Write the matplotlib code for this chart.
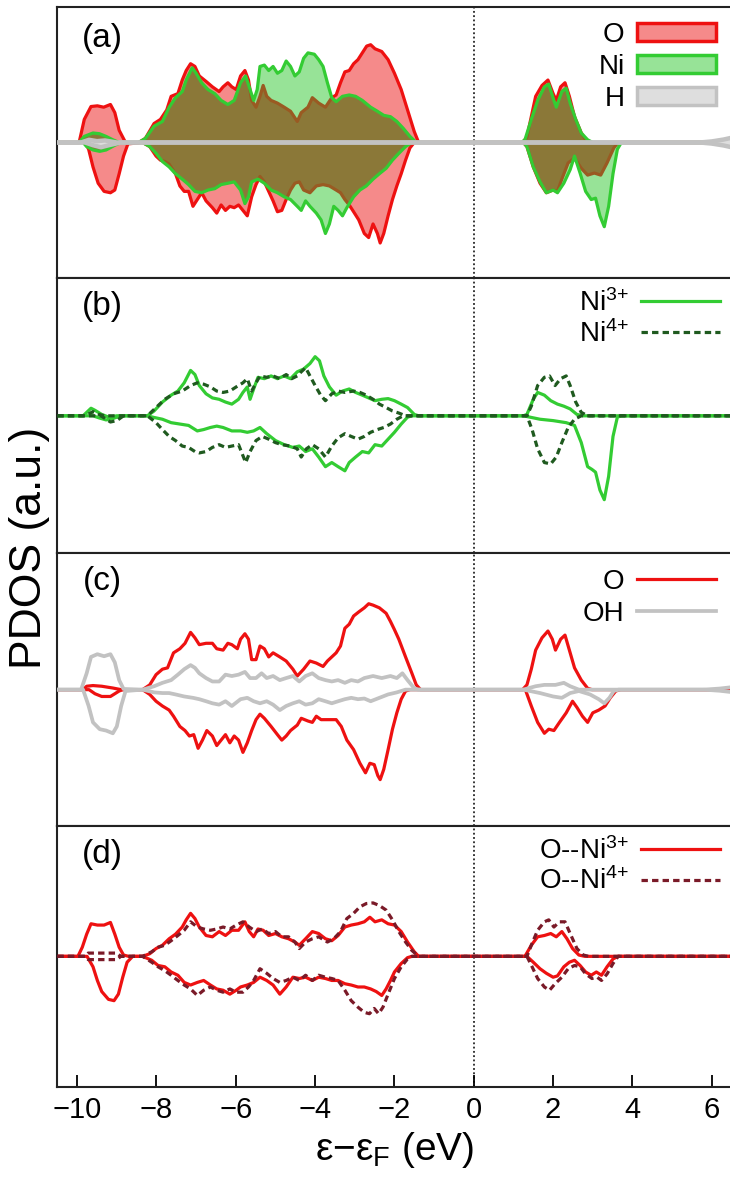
import numpy as np
import matplotlib
matplotlib.use("Agg")
import matplotlib.pyplot as plt
from matplotlib.patches import Patch
from matplotlib.lines import Line2D

plt.rcParams['font.family'] = ['Liberation Sans', 'DejaVu Sans']
plt.rcParams['mathtext.fontset'] = 'custom'
plt.rcParams['mathtext.rm'] = 'Liberation Sans'
plt.rcParams['mathtext.it'] = 'Liberation Sans:italic'

# ---------------- data (energy in eV, PDOS in arbitrary units) ----------------
XTICKS = [-10, -8, -6, -4, -2, 0, 2, 4, 6]
XLIM = (-10.5, 6.5)
PANEL_LABELS = ['(a)', '(b)', '(c)', '(d)']

A_O_UP = [(-10.5,0),(-9.95,0),(-9.82,0.17),(-9.65,0.265),(-9.49,0.27),(-9.33,0.26),(-9.16,0.28),(-9.05,0.22),(-8.94,0.09),(-8.78,0),(-8.45,0),(-8.28,0.03),(-8.06,0.14),(-7.9,0.17),(-7.74,0.24),(-7.63,0.34),(-7.46,0.36),(-7.35,0.46),(-7.25,0.53),(-7.14,0.58),(-7.03,0.56),(-6.92,0.49),(-6.75,0.45),(-6.59,0.41),(-6.42,0.375),(-6.32,0.41),(-6.2,0.44),(-6.1,0.41),(-5.99,0.39),(-5.88,0.49),(-5.77,0.53),(-5.68,0.46),(-5.6,0.31),(-5.49,0.26),(-5.39,0.34),(-5.31,0.42),(-5.22,0.34),(-5.11,0.31),(-4.95,0.29),(-4.78,0.26),(-4.62,0.23),(-4.45,0.155),(-4.35,0.22),(-4.18,0.26),(-4.07,0.33),(-3.91,0.29),(-3.74,0.26),(-3.58,0.33),(-3.47,0.35),(-3.36,0.44),(-3.25,0.52),(-3.14,0.53),(-3.03,0.58),(-2.92,0.61),(-2.81,0.66),(-2.7,0.71),(-2.6,0.72),(-2.49,0.69),(-2.32,0.67),(-2.16,0.61),(-2.0,0.51),(-1.83,0.39),(-1.67,0.24),(-1.5,0.08),(-1.39,0),(1.23,0),(1.34,0.04),(1.45,0.19),(1.56,0.34),(1.72,0.42),(1.87,0.46),(2.0,0.36),(2.08,0.31),(2.19,0.41),(2.3,0.44),(2.41,0.34),(2.54,0.19),(2.71,0.07),(2.87,0),(6.5,0)]
A_NI_UP = [(-10.5,0),(-9.95,0),(-9.82,0.045),(-9.6,0.07),(-9.44,0.065),(-9.27,0.045),(-9.1,0.02),(-8.94,0),(-8.45,0),(-8.28,0.03),(-8.06,0.12),(-7.85,0.155),(-7.68,0.26),(-7.52,0.33),(-7.35,0.375),(-7.25,0.46),(-7.1,0.55),(-7.0,0.51),(-6.86,0.44),(-6.7,0.39),(-6.53,0.36),(-6.37,0.31),(-6.2,0.28),(-6.04,0.31),(-5.88,0.44),(-5.75,0.49),(-5.64,0.39),(-5.55,0.31),(-5.46,0.39),(-5.39,0.56),(-5.28,0.57),(-5.17,0.53),(-5.06,0.56),(-4.95,0.51),(-4.84,0.53),(-4.73,0.6),(-4.62,0.56),(-4.51,0.49),(-4.4,0.52),(-4.29,0.62),(-4.18,0.66),(-4.02,0.65),(-3.91,0.61),(-3.8,0.56),(-3.69,0.44),(-3.58,0.33),(-3.47,0.3),(-3.31,0.34),(-3.14,0.35),(-2.98,0.34),(-2.81,0.31),(-2.6,0.26),(-2.43,0.23),(-2.27,0.2),(-2.1,0.19),(-1.94,0.155),(-1.78,0.105),(-1.61,0.045),(-1.45,0),(1.2,0),(1.29,0.02),(1.45,0.17),(1.61,0.31),(1.78,0.41),(1.89,0.43),(2.02,0.31),(2.08,0.26),(2.22,0.375),(2.33,0.4),(2.43,0.29),(2.57,0.17),(2.71,0.07),(2.87,0.02),(3.0,0),(6.5,0)]
A_O_DN = [(-10.5,0),(-9.8,0),(-9.71,-0.05),(-9.6,-0.18),(-9.47,-0.3),(-9.32,-0.36),(-9.16,-0.37),(-9.05,-0.35),(-8.94,-0.23),(-8.83,-0.1),(-8.72,-0.01),(-8.35,0),(-8.17,-0.03),(-8.01,-0.1),(-7.9,-0.13),(-7.79,-0.14),(-7.68,-0.16),(-7.52,-0.23),(-7.41,-0.32),(-7.3,-0.36),(-7.19,-0.36),(-7.08,-0.47),(-6.97,-0.42),(-6.86,-0.37),(-6.75,-0.43),(-6.59,-0.48),(-6.48,-0.52),(-6.37,-0.46),(-6.26,-0.5),(-6.15,-0.47),(-6.04,-0.48),(-5.93,-0.46),(-5.82,-0.5),(-5.71,-0.54),(-5.6,-0.4),(-5.49,-0.31),(-5.39,-0.25),(-5.28,-0.29),(-5.17,-0.36),(-5.06,-0.43),(-4.95,-0.51),(-4.84,-0.5),(-4.73,-0.42),(-4.62,-0.35),(-4.51,-0.3),(-4.4,-0.29),(-4.29,-0.35),(-4.13,-0.37),(-3.97,-0.32),(-3.8,-0.31),(-3.64,-0.32),(-3.47,-0.35),(-3.36,-0.37),(-3.25,-0.42),(-3.14,-0.46),(-3.03,-0.51),(-2.9,-0.57),(-2.76,-0.67),(-2.65,-0.7),(-2.54,-0.6),(-2.43,-0.67),(-2.36,-0.74),(-2.27,-0.67),(-2.16,-0.54),(-2.05,-0.42),(-1.94,-0.32),(-1.83,-0.23),(-1.72,-0.13),(-1.61,-0.04),(-1.5,0),(1.25,0),(1.34,-0.03),(1.5,-0.18),(1.67,-0.3),(1.83,-0.37),(2.0,-0.35),(2.11,-0.36),(2.22,-0.27),(2.38,-0.15),(2.54,-0.115),(2.71,-0.19),(2.87,-0.24),(3.04,-0.225),(3.2,-0.24),(3.36,-0.15),(3.53,-0.04),(3.64,0),(6.5,0)]
A_NI_DN = [(-10.5,0),(-9.85,0),(-9.76,-0.03),(-9.6,-0.055),(-9.43,-0.065),(-9.27,-0.055),(-9.05,-0.02),(-8.89,0),(-8.35,0),(-8.17,-0.03),(-8.01,-0.08),(-7.85,-0.14),(-7.68,-0.18),(-7.52,-0.23),(-7.35,-0.27),(-7.19,-0.31),(-7.03,-0.36),(-6.86,-0.37),(-6.7,-0.35),(-6.53,-0.34),(-6.37,-0.31),(-6.2,-0.3),(-6.04,-0.29),(-5.88,-0.35),(-5.77,-0.45),(-5.68,-0.4),(-5.6,-0.29),(-5.44,-0.27),(-5.28,-0.3),(-5.11,-0.35),(-4.95,-0.37),(-4.78,-0.4),(-4.62,-0.42),(-4.45,-0.47),(-4.35,-0.5),(-4.24,-0.43),(-4.13,-0.47),(-3.97,-0.52),(-3.85,-0.57),(-3.74,-0.67),(-3.64,-0.6),(-3.53,-0.47),(-3.42,-0.5),(-3.31,-0.54),(-3.2,-0.48),(-3.03,-0.4),(-2.87,-0.35),(-2.71,-0.32),(-2.54,-0.27),(-2.38,-0.23),(-2.21,-0.19),(-2.05,-0.13),(-1.89,-0.08),(-1.72,-0.03),(-1.56,0),(1.25,0),(1.34,-0.03),(1.5,-0.18),(1.67,-0.29),(1.83,-0.37),(2.0,-0.35),(2.11,-0.37),(2.27,-0.3),(2.43,-0.2),(2.54,-0.1),(2.68,-0.225),(2.82,-0.36),(2.96,-0.42),(3.07,-0.41),(3.18,-0.54),(3.29,-0.62),(3.4,-0.47),(3.51,-0.23),(3.62,-0.05),(3.72,0),(6.5,0)]
A_H_UP = [(-10.5,0),(-9.9,0),(-9.7,0.02),(-9.5,0.01),(-9.3,0.015),(-9.0,0),(5.7,0),(6.0,0.008),(6.3,0.022),(6.5,0.035)]
A_H_DN = [(-10.5,0),(-9.8,0),(-9.6,-0.02),(-9.4,-0.035),(-9.2,-0.02),(-8.9,0),(5.7,0),(6.0,-0.008),(6.3,-0.022),(6.5,-0.035)]

B_NI3_UP = [(-10.5,0),(-9.85,0),(-9.65,0.055),(-9.55,0.04),(-9.38,0.01),(-9.2,-0.01),(-9.0,0),(-8.23,0),(-8.06,0.035),(-7.85,0.1),(-7.63,0.15),(-7.46,0.18),(-7.3,0.24),(-7.14,0.33),(-7.03,0.3),(-6.92,0.22),(-6.75,0.16),(-6.59,0.13),(-6.42,0.12),(-6.26,0.1),(-6.1,0.085),(-5.93,0.12),(-5.82,0.17),(-5.71,0.21),(-5.64,0.12),(-5.55,0.195),(-5.44,0.28),(-5.28,0.27),(-5.11,0.29),(-4.95,0.27),(-4.78,0.29),(-4.62,0.27),(-4.45,0.32),(-4.29,0.34),(-4.13,0.38),(-4.0,0.43),(-3.89,0.4),(-3.78,0.29),(-3.64,0.21),(-3.47,0.15),(-3.31,0.18),(-3.14,0.195),(-2.98,0.17),(-2.81,0.15),(-2.65,0.13),(-2.49,0.11),(-2.32,0.12),(-2.16,0.125),(-2.0,0.11),(-1.83,0.085),(-1.67,0.06),(-1.5,0.01),(-1.39,0),(1.25,0),(1.34,0.01),(1.5,0.12),(1.61,0.17),(1.78,0.15),(1.94,0.11),(2.11,0.085),(2.27,0.07),(2.43,0.05),(2.6,0.01),(2.76,0),(6.5,0)]
B_NI3_DN = [(-10.5,0),(-9.6,0),(-9.45,-0.015),(-9.27,-0.03),(-9.1,-0.02),(-8.9,0),(-8.23,0),(-8.06,-0.012),(-7.85,-0.025),(-7.63,-0.05),(-7.41,-0.06),(-7.19,-0.07),(-6.97,-0.11),(-6.81,-0.1),(-6.64,-0.085),(-6.48,-0.075),(-6.32,-0.085),(-6.1,-0.11),(-5.88,-0.11),(-5.71,-0.12),(-5.55,-0.11),(-5.39,-0.085),(-5.22,-0.13),(-5.0,-0.18),(-4.78,-0.21),(-4.56,-0.23),(-4.4,-0.22),(-4.24,-0.26),(-4.07,-0.24),(-3.91,-0.3),(-3.74,-0.37),(-3.58,-0.34),(-3.42,-0.37),(-3.25,-0.4),(-3.14,-0.34),(-2.98,-0.3),(-2.81,-0.26),(-2.65,-0.27),(-2.49,-0.21),(-2.32,-0.22),(-2.16,-0.17),(-2.0,-0.12),(-1.83,-0.06),(-1.67,-0.01),(-1.56,0),(1.25,0),(1.67,-0.025),(2.0,-0.035),(2.33,-0.05),(2.54,-0.07),(2.71,-0.195),(2.87,-0.37),(2.98,-0.39),(3.07,-0.41),(3.18,-0.54),(3.29,-0.61),(3.4,-0.44),(3.51,-0.15),(3.62,-0.01),(3.72,0),(6.5,0)]
B_NI4_UP = [(-10.5,0),(-9.8,0),(-9.6,0.03),(-9.45,0.01),(-9.3,0),(-8.23,0),(-8.01,0.06),(-7.79,0.12),(-7.57,0.16),(-7.35,0.18),(-7.14,0.22),(-6.97,0.24),(-6.81,0.23),(-6.64,0.21),(-6.48,0.18),(-6.32,0.17),(-6.15,0.18),(-5.99,0.21),(-5.82,0.24),(-5.71,0.27),(-5.6,0.18),(-5.49,0.24),(-5.39,0.29),(-5.22,0.28),(-5.06,0.29),(-4.89,0.27),(-4.73,0.3),(-4.59,0.27),(-4.45,0.29),(-4.35,0.32),(-4.24,0.35),(-4.13,0.29),(-4.0,0.22),(-3.86,0.15),(-3.74,0.11),(-3.58,0.16),(-3.42,0.18),(-3.25,0.17),(-3.03,0.18),(-2.87,0.17),(-2.71,0.15),(-2.54,0.12),(-2.38,0.085),(-2.21,0.06),(-2.05,0.035),(-1.89,0.02),(-1.72,0),(1.34,0),(1.45,0.07),(1.61,0.22),(1.78,0.28),(1.91,0.29),(2.05,0.22),(2.19,0.27),(2.33,0.29),(2.43,0.22),(2.57,0.1),(2.71,0.025),(2.87,0),(6.5,0)]
B_NI4_DN = [(-10.5,0),(-9.4,0),(-9.16,-0.045),(-9.0,-0.035),(-8.83,0),(-8.23,0),(-8.01,-0.05),(-7.85,-0.1),(-7.68,-0.15),(-7.52,-0.18),(-7.35,-0.22),(-7.19,-0.23),(-7.03,-0.26),(-6.92,-0.27),(-6.75,-0.26),(-6.59,-0.23),(-6.42,-0.21),(-6.26,-0.23),(-6.1,-0.22),(-5.93,-0.21),(-5.82,-0.29),(-5.75,-0.34),(-5.64,-0.26),(-5.49,-0.18),(-5.33,-0.15),(-5.17,-0.17),(-5.0,-0.195),(-4.84,-0.21),(-4.62,-0.22),(-4.45,-0.24),(-4.35,-0.3),(-4.22,-0.24),(-4.07,-0.21),(-3.91,-0.24),(-3.74,-0.3),(-3.58,-0.22),(-3.42,-0.16),(-3.25,-0.13),(-3.09,-0.15),(-2.92,-0.17),(-2.76,-0.15),(-2.6,-0.12),(-2.43,-0.1),(-2.27,-0.085),(-2.1,-0.06),(-1.94,-0.025),(-1.78,0),(1.34,0),(1.47,-0.1),(1.61,-0.24),(1.78,-0.34),(1.94,-0.35),(2.08,-0.3),(2.22,-0.195),(2.38,-0.085),(2.54,-0.025),(2.71,0),(6.5,0)]

C_O_UP = [(-10.5,0),(-9.85,0),(-9.76,0.025),(-9.6,0.03),(-9.38,0.025),(-9.1,0.012),(-8.89,0),(-8.35,0),(-8.17,0.035),(-8.01,0.11),(-7.85,0.15),(-7.72,0.16),(-7.57,0.27),(-7.41,0.3),(-7.28,0.34),(-7.14,0.42),(-7.03,0.38),(-6.92,0.33),(-6.75,0.34),(-6.59,0.34),(-6.48,0.3),(-6.32,0.29),(-6.2,0.34),(-6.1,0.33),(-5.96,0.3),(-5.88,0.37),(-5.77,0.41),(-5.68,0.37),(-5.6,0.22),(-5.49,0.22),(-5.39,0.32),(-5.28,0.3),(-5.17,0.24),(-5.06,0.27),(-4.89,0.24),(-4.73,0.21),(-4.56,0.15),(-4.45,0.1),(-4.29,0.15),(-4.13,0.21),(-3.97,0.195),(-3.8,0.17),(-3.69,0.21),(-3.58,0.24),(-3.47,0.27),(-3.36,0.32),(-3.25,0.45),(-3.14,0.48),(-3.03,0.54),(-2.9,0.57),(-2.76,0.6),(-2.65,0.63),(-2.54,0.62),(-2.38,0.6),(-2.21,0.56),(-2.1,0.5),(-2.0,0.44),(-1.89,0.37),(-1.72,0.24),(-1.56,0.12),(-1.45,0.035),(-1.34,0),(1.23,0),(1.34,0.035),(1.45,0.15),(1.56,0.29),(1.72,0.38),(1.87,0.43),(1.98,0.37),(2.06,0.29),(2.19,0.37),(2.3,0.4),(2.41,0.29),(2.54,0.16),(2.71,0.07),(2.87,0.01),(2.98,0),(6.5,0)]
C_O_DN = [(-10.5,0),(-9.7,0),(-9.55,-0.03),(-9.38,-0.05),(-9.16,-0.05),(-8.94,-0.01),(-8.85,0),(-8.35,0),(-8.17,-0.035),(-8.01,-0.085),(-7.85,-0.12),(-7.68,-0.15),(-7.57,-0.195),(-7.41,-0.27),(-7.28,-0.3),(-7.17,-0.34),(-7.06,-0.33),(-6.95,-0.43),(-6.84,-0.37),(-6.73,-0.3),(-6.59,-0.34),(-6.48,-0.41),(-6.37,-0.37),(-6.26,-0.33),(-6.15,-0.39),(-6.04,-0.34),(-5.93,-0.37),(-5.82,-0.46),(-5.71,-0.39),(-5.6,-0.3),(-5.49,-0.22),(-5.39,-0.18),(-5.28,-0.21),(-5.11,-0.27),(-4.95,-0.33),(-4.84,-0.37),(-4.73,-0.34),(-4.62,-0.3),(-4.45,-0.26),(-4.35,-0.21),(-4.18,-0.23),(-4.07,-0.24),(-3.97,-0.195),(-3.85,-0.22),(-3.69,-0.22),(-3.47,-0.22),(-3.34,-0.27),(-3.2,-0.37),(-3.03,-0.44),(-2.87,-0.54),(-2.73,-0.61),(-2.62,-0.54),(-2.51,-0.55),(-2.42,-0.63),(-2.36,-0.66),(-2.27,-0.585),(-2.16,-0.44),(-2.05,-0.29),(-1.94,-0.17),(-1.83,-0.07),(-1.72,-0.01),(-1.6,0),(1.3,0),(1.45,-0.12),(1.61,-0.24),(1.78,-0.32),(1.89,-0.29),(2.02,-0.3),(2.16,-0.24),(2.33,-0.17),(2.49,-0.085),(2.6,-0.13),(2.74,-0.195),(2.87,-0.24),(3.0,-0.17),(3.15,-0.15),(3.31,-0.12),(3.44,-0.06),(3.58,-0.01),(3.7,0),(6.5,0)]
C_OH_UP = [(-10.5,0),(-9.9,0),(-9.76,0.12),(-9.65,0.24),(-9.49,0.26),(-9.32,0.245),(-9.16,0.26),(-9.05,0.2),(-8.94,0.07),(-8.83,0.005),(-8.35,0),(-8.06,0.025),(-7.85,0.05),(-7.63,0.07),(-7.46,0.11),(-7.3,0.15),(-7.14,0.18),(-7.03,0.16),(-6.92,0.12),(-6.75,0.085),(-6.59,0.06),(-6.42,0.06),(-6.26,0.11),(-6.1,0.1),(-5.93,0.11),(-5.77,0.13),(-5.64,0.085),(-5.49,0.085),(-5.35,0.12),(-5.22,0.085),(-5.06,0.1),(-4.89,0.07),(-4.73,0.085),(-4.56,0.1),(-4.4,0.06),(-4.24,0.1),(-4.07,0.12),(-3.91,0.085),(-3.74,0.07),(-3.58,0.06),(-3.42,0.07),(-3.25,0.05),(-3.09,0.07),(-2.92,0.06),(-2.76,0.085),(-2.54,0.1),(-2.32,0.085),(-2.1,0.1),(-1.94,0.085),(-1.8,0.12),(-1.67,0.07),(-1.5,0.01),(-1.4,0),(1.25,0),(1.56,0.025),(1.78,0.035),(2.06,0.035),(2.27,0.05),(2.43,0.025),(2.65,0),(5.8,0),(6.2,0.008),(6.5,0.018)]
C_OH_DN = [(-10.5,0),(-9.85,0),(-9.71,-0.12),(-9.6,-0.24),(-9.43,-0.29),(-9.27,-0.3),(-9.1,-0.32),(-9.0,-0.27),(-8.89,-0.12),(-8.78,-0.01),(-8.35,0),(-8.06,-0.02),(-7.85,-0.025),(-7.68,-0.025),(-7.52,-0.035),(-7.3,-0.05),(-7.08,-0.06),(-6.92,-0.07),(-6.75,-0.085),(-6.59,-0.1),(-6.42,-0.11),(-6.26,-0.085),(-6.1,-0.12),(-5.88,-0.07),(-5.71,-0.06),(-5.55,-0.085),(-5.39,-0.1),(-5.22,-0.085),(-5.06,-0.11),(-4.89,-0.15),(-4.73,-0.12),(-4.56,-0.1),(-4.4,-0.085),(-4.24,-0.11),(-4.07,-0.1),(-3.91,-0.07),(-3.74,-0.085),(-3.58,-0.1),(-3.42,-0.085),(-3.25,-0.07),(-3.09,-0.06),(-2.92,-0.07),(-2.76,-0.065),(-2.6,-0.085),(-2.38,-0.06),(-2.16,-0.035),(-1.94,-0.02),(-1.72,0),(1.25,0),(1.67,-0.025),(2.0,-0.05),(2.22,-0.06),(2.43,-0.025),(2.65,-0.01),(2.93,-0.035),(3.15,-0.07),(3.29,-0.1),(3.42,-0.06),(3.53,-0.01),(3.65,0),(5.8,0),(6.2,-0.008),(6.5,-0.018)]

D_N3_UP = [(-10.5,0),(-9.98,0),(-9.87,0.07),(-9.76,0.17),(-9.65,0.25),(-9.49,0.24),(-9.32,0.24),(-9.16,0.26),(-9.05,0.17),(-8.94,0.07),(-8.83,0.01),(-8.7,0),(-8.35,0),(-8.17,0.02),(-8.01,0.06),(-7.85,0.085),(-7.68,0.135),(-7.52,0.17),(-7.35,0.225),(-7.25,0.28),(-7.14,0.33),(-7.03,0.29),(-6.92,0.225),(-6.75,0.16),(-6.59,0.15),(-6.42,0.19),(-6.26,0.16),(-6.1,0.2),(-5.93,0.2),(-5.77,0.265),(-5.66,0.19),(-5.55,0.15),(-5.44,0.21),(-5.31,0.2),(-5.17,0.16),(-5.0,0.175),(-4.84,0.15),(-4.67,0.135),(-4.51,0.11),(-4.4,0.085),(-4.24,0.135),(-4.07,0.19),(-3.91,0.175),(-3.74,0.135),(-3.58,0.12),(-3.42,0.16),(-3.25,0.225),(-3.09,0.24),(-2.92,0.25),(-2.76,0.265),(-2.62,0.3),(-2.49,0.265),(-2.32,0.28),(-2.16,0.25),(-2.0,0.24),(-1.83,0.19),(-1.67,0.11),(-1.5,0.035),(-1.39,0),(1.29,0),(1.45,0.085),(1.61,0.15),(1.78,0.16),(1.94,0.175),(2.08,0.15),(2.22,0.19),(2.35,0.135),(2.49,0.06),(2.65,0.01),(2.8,0),(6.5,0)]
D_N3_DN = [(-10.5,0),(-9.75,0),(-9.6,-0.08),(-9.49,-0.185),(-9.38,-0.27),(-9.21,-0.33),(-9.07,-0.34),(-8.96,-0.29),(-8.85,-0.16),(-8.74,-0.045),(-8.6,0),(-8.35,0),(-8.12,-0.03),(-7.96,-0.07),(-7.79,-0.08),(-7.63,-0.12),(-7.46,-0.145),(-7.3,-0.2),(-7.14,-0.22),(-6.97,-0.2),(-6.81,-0.185),(-6.64,-0.22),(-6.48,-0.25),(-6.32,-0.26),(-6.15,-0.29),(-5.99,-0.26),(-5.88,-0.235),(-5.71,-0.22),(-5.55,-0.2),(-5.39,-0.16),(-5.22,-0.185),(-5.06,-0.22),(-4.89,-0.29),(-4.73,-0.235),(-4.56,-0.16),(-4.4,-0.17),(-4.24,-0.16),(-4.07,-0.185),(-3.91,-0.16),(-3.74,-0.17),(-3.58,-0.185),(-3.42,-0.185),(-3.25,-0.21),(-3.09,-0.22),(-2.92,-0.235),(-2.76,-0.235),(-2.6,-0.25),(-2.46,-0.27),(-2.32,-0.3),(-2.21,-0.25),(-2.1,-0.185),(-2.0,-0.12),(-1.83,-0.055),(-1.67,-0.01),(-1.56,0),(1.34,0),(1.5,-0.045),(1.67,-0.095),(1.83,-0.13),(2.0,-0.16),(2.11,-0.15),(2.27,-0.08),(2.41,-0.045),(2.54,-0.03),(2.68,-0.07),(2.82,-0.12),(2.96,-0.145),(3.09,-0.12),(3.22,-0.145),(3.36,-0.08),(3.51,-0.02),(3.64,0),(6.5,0)]
D_N4_UP = [(-10.5,0),(-9.8,0),(-9.72,0.025),(-9.0,0.025),(-8.9,0),(-8.35,0),(-8.12,0.035),(-7.96,0.07),(-7.79,0.085),(-7.63,0.12),(-7.46,0.16),(-7.3,0.2),(-7.14,0.265),(-6.97,0.225),(-6.81,0.21),(-6.64,0.2),(-6.48,0.21),(-6.32,0.225),(-6.15,0.21),(-5.99,0.24),(-5.82,0.265),(-5.66,0.225),(-5.49,0.19),(-5.33,0.21),(-5.17,0.175),(-5.0,0.19),(-4.84,0.15),(-4.67,0.15),(-4.51,0.11),(-4.4,0.06),(-4.24,0.11),(-4.07,0.135),(-3.91,0.15),(-3.69,0.11),(-3.53,0.135),(-3.36,0.19),(-3.2,0.29),(-3.03,0.33),(-2.87,0.38),(-2.71,0.405),(-2.54,0.41),(-2.38,0.39),(-2.21,0.355),(-2.05,0.28),(-1.89,0.19),(-1.72,0.11),(-1.56,0.045),(-1.39,0),(1.34,0),(1.47,0.1),(1.61,0.2),(1.78,0.265),(1.89,0.28),(2.02,0.225),(2.16,0.265),(2.3,0.265),(2.43,0.175),(2.6,0.06),(2.76,0.01),(2.9,0),(6.5,0)]
D_N4_DN = [(-10.5,0),(-9.8,0),(-9.72,-0.025),(-9.0,-0.025),(-8.9,0),(-8.35,0),(-8.12,-0.045),(-7.96,-0.08),(-7.79,-0.11),(-7.63,-0.145),(-7.46,-0.185),(-7.3,-0.22),(-7.14,-0.25),(-6.97,-0.3),(-6.81,-0.26),(-6.64,-0.235),(-6.48,-0.26),(-6.32,-0.275),(-6.15,-0.25),(-5.99,-0.275),(-5.82,-0.275),(-5.68,-0.235),(-5.55,-0.185),(-5.39,-0.095),(-5.22,-0.13),(-5.06,-0.17),(-4.89,-0.2),(-4.73,-0.185),(-4.56,-0.16),(-4.4,-0.185),(-4.24,-0.145),(-4.07,-0.185),(-3.91,-0.145),(-3.74,-0.16),(-3.58,-0.17),(-3.42,-0.185),(-3.25,-0.26),(-3.09,-0.34),(-2.92,-0.39),(-2.76,-0.43),(-2.63,-0.44),(-2.51,-0.4),(-2.4,-0.44),(-2.29,-0.39),(-2.16,-0.29),(-2.0,-0.17),(-1.83,-0.08),(-1.67,-0.02),(-1.56,0),(1.34,0),(1.47,-0.08),(1.61,-0.17),(1.78,-0.235),(1.91,-0.26),(2.05,-0.21),(2.22,-0.16),(2.38,-0.095),(2.54,-0.07),(2.68,-0.08),(2.82,-0.135),(2.98,-0.17),(3.11,-0.16),(3.22,-0.185),(3.36,-0.135),(3.51,-0.055),(3.64,0),(6.5,0)]

# ---------------- styles ----------------
RED = '#ee1111'
LIGHT_RED = '#f58a8a'
GREEN = '#33cc33'
LIGHT_GREEN = '#97e397'
OLIVE = '#8b7838'
BROWN = '#9a5a22'
GRAY = '#c2c2c2'
LIGHT_GRAY = '#dedede'
DGREEN = '#1f5a1f'
DRED = '#7a1a28'
LW = 2.3
DASH = (2.0, 1.3)


def xy(pts):
    a = np.array(pts, dtype=float)
    return a[:, 0], a[:, 1]


W, H = 730, 1182
fig = plt.figure(figsize=(W / 100, H / 100), dpi=100)
left_px, right_px = 57.3, 731.6
bounds_px = [(6.7, 278.3), (278.3, 553.3), (553.3, 826.0), (826.0, 1086.7)]
axes = []
for top, bot in bounds_px:
    ax = fig.add_axes([left_px / W, 1 - bot / H, (right_px - left_px) / W, (bot - top) / H])
    ax.set_xlim(*XLIM)
    ax.set_ylim(-1, 1)
    ax.set_yticks([])
    ax.axvline(0, color='black', lw=1.1, ls=(0, (1.2, 1.6)), zorder=0.5)
    for s in ax.spines.values():
        s.set_linewidth(1.5)
        s.set_color('#222222')
    axes.append(ax)

for i, ax in enumerate(axes):
    ax.set_xticks(XTICKS)
    if i < 3:
        ax.tick_params(axis='x', length=0, labelbottom=False)
    else:
        ax.tick_params(axis='x', direction='in', length=8.5, width=1.3, labelsize=21, pad=7)
    top, bot = bounds_px[i]
    dy = 32 if i == 0 else 28
    ax.text((102 - left_px) / (right_px - left_px), 1 - dy / (bot - top), PANEL_LABELS[i],
            transform=ax.transAxes, ha='center', va='center', fontsize=24)

# ----- panel (a): filled PDOS -----
ax = axes[0]
for O, NI, HH in [(A_O_UP, A_NI_UP, A_H_UP), (A_O_DN, A_NI_DN, A_H_DN)]:
    eo, vo = xy(O)
    en, vn = xy(NI)
    eh, vh = xy(HH)
    ax.fill_between(eo, 0, vo, color=LIGHT_RED, lw=0, zorder=1)
    ax.plot(eo, vo, color=RED, lw=LW, zorder=2)
    nif = ax.fill_between(en, 0, vn, color=LIGHT_GREEN, lw=0, zorder=3)
    clip = nif.get_paths()[0]
    ov = ax.fill_between(eo, 0, vo, color=OLIVE, lw=0, zorder=4)
    ov.set_clip_path(clip, ax.transData)
    ol, = ax.plot(eo, vo, color=BROWN, lw=LW, zorder=4.5)
    ol.set_clip_path(clip, ax.transData)
    ax.plot(en, vn, color=GREEN, lw=LW, zorder=5)
    ax.fill_between(eh, 0, vh, color=LIGHT_GRAY, lw=0, zorder=6)
    ax.plot(eh, vh, color=GRAY, lw=3.2, zorder=7)

hA = [Patch(facecolor=LIGHT_RED, edgecolor=RED, lw=2.5),
      Patch(facecolor=LIGHT_GREEN, edgecolor=GREEN, lw=2.5),
      Patch(facecolor=LIGHT_GRAY, edgecolor=GRAY, lw=2.5)]
ax.legend(hA, ['O', 'Ni', 'H'], loc='upper right', markerfirst=False, frameon=False,
          fontsize=20, handlelength=2.85, handleheight=0.62, handletextpad=0.45,
          labelspacing=0.22, borderaxespad=0.2, borderpad=0.35)

# ----- panel (b) -----
ax = axes[1]
for pts in (B_NI3_UP, B_NI3_DN):
    e, v = xy(pts)
    ax.plot(e, v, color=GREEN, lw=LW, zorder=2)
for pts in (B_NI4_UP, B_NI4_DN):
    e, v = xy(pts)
    ax.plot(e, v, color=DGREEN, lw=LW, dashes=DASH, zorder=3)
hB = [Line2D([], [], color=GREEN, lw=LW), Line2D([], [], color=DGREEN, lw=LW, dashes=DASH)]
ax.legend(hB, [r'Ni$^{\text{3+}}$', r'Ni$^{\text{4+}}$'], loc='upper right', markerfirst=False,
          frameon=False, fontsize=20, handlelength=2.85, handletextpad=0.45,
          labelspacing=0.1, borderaxespad=0.2, borderpad=0.2)

# ----- panel (c) -----
ax = axes[2]
for pts in (C_O_UP, C_O_DN):
    e, v = xy(pts)
    ax.plot(e, v, color=RED, lw=LW, zorder=2)
for pts in (C_OH_UP, C_OH_DN):
    e, v = xy(pts)
    ax.plot(e, v, color=GRAY, lw=LW + 0.4, zorder=3)
hC = [Line2D([], [], color=RED, lw=LW), Line2D([], [], color=GRAY, lw=LW + 0.4)]
ax.legend(hC, ['O', 'OH'], loc='upper right', markerfirst=False, frameon=False,
          fontsize=20, handlelength=2.85, handletextpad=0.45,
          labelspacing=0.22, borderaxespad=0.2, borderpad=0.35)

# ----- panel (d) -----
ax = axes[3]
for pts in (D_N3_UP, D_N3_DN):
    e, v = xy(pts)
    ax.plot(e, v, color=RED, lw=LW, zorder=2)
for pts in (D_N4_UP, D_N4_DN):
    e, v = xy(pts)
    ax.plot(e, v, color=DRED, lw=LW, dashes=DASH, zorder=3)
hD = [Line2D([], [], color=RED, lw=LW), Line2D([], [], color=DRED, lw=LW, dashes=DASH)]
ax.legend(hD, [r'O--Ni$^{\text{3+}}$', r'O--Ni$^{\text{4+}}$'], loc='upper right', markerfirst=False,
          frameon=False, fontsize=20, handlelength=2.85, handletextpad=0.45,
          labelspacing=0.1, borderaxespad=0.2, borderpad=0.2)

axes[3].set_xlabel(r'ε−ε$_{\mathrm{F}}$ (eV)', fontsize=28, labelpad=4)
fig.text(30 / W, 1 - 548 / H, 'PDOS (a.u.)', rotation=90, ha='center', va='center', fontsize=32)

fig.savefig('out.png', dpi=100)
